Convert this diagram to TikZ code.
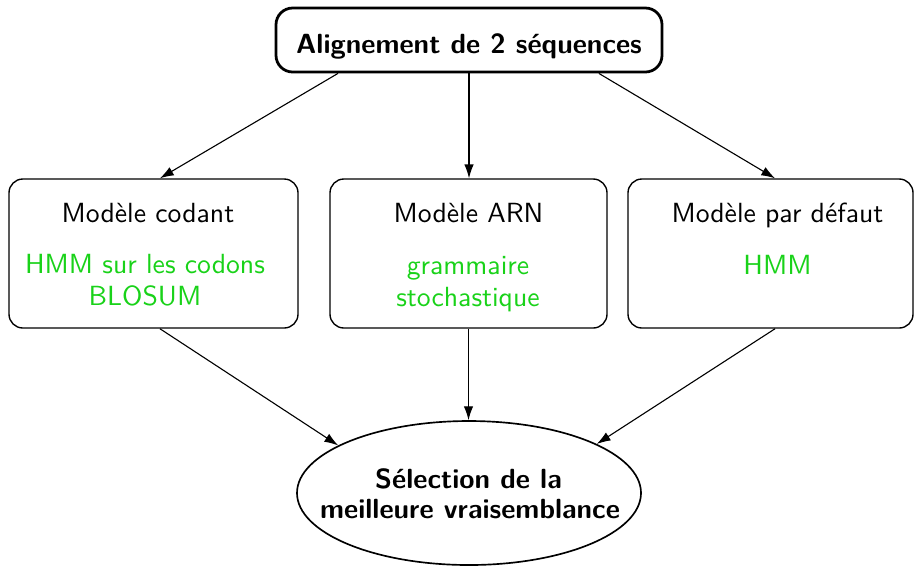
\documentclass[tikz,border=0pt]{standalone}
\usetikzlibrary{shapes.geometric,arrows.meta,calc}
\definecolor{leafgreen}{RGB}{25,210,25}
\begin{document}
\begin{tikzpicture}[x=0.361pt,y=-0.361pt,font=\sffamily,
  headbox/.style={draw,line width=1pt,rounded corners=6pt,inner sep=0pt,
    minimum width=386*0.361pt,minimum height=64*0.361pt},
  headtext/.style={anchor=base,inner sep=0pt,font=\sffamily\bfseries},
  modelbox/.style={draw,line width=0.5pt,rounded corners=5pt,inner sep=0pt,
    minimum height=149*0.361pt},
  modeltitle/.style={anchor=base,inner sep=0pt},
  modelalt/.style={anchor=base,inner sep=0pt,text=leafgreen},
  choice/.style={ellipse,draw,line width=0.6pt,inner sep=0pt,
    minimum width=344*0.361pt,minimum height=144*0.361pt},
  choicetext/.style={anchor=base,inner sep=0pt,font=\sffamily\bfseries},
  link/.style={-{Latex[length=5pt,width=3.4pt]},line width=0.4pt}]
\useasboundingbox (0,0) rectangle (914,566);

% input
\node[headbox] (top) at (469,40) {};
\node[headtext] (toplabel) at (469,53) {Alignement de 2 séquences};

% the three models
\node[modelbox,minimum width=289*0.361pt] (cod) at (153.5,253.5) {};
\node[modeltitle] (codtitle) at (148,222) {Modèle codant};
\node[modelalt] (codalt1) at (145,273) {HMM sur les codons};
\node[modelalt] (codalt2) at (145,305) {BLOSUM};

\node[modelbox,minimum width=277*0.361pt] (arn) at (468.5,253.5) {};
\node[modeltitle] (arntitle) at (468.5,222) {Modèle ARN};
\node[modelalt] (arnalt1) at (468,274) {grammaire};
\node[modelalt] (arnalt2) at (468,306) {stochastique};

\node[modelbox,minimum width=285*0.361pt] (def) at (770.5,253.5) {};
\node[modeltitle] (deftitle) at (777.5,222) {Modèle par défaut};
\node[modelalt] (defalt) at (777.5,274) {HMM};

% selection
\node[choice] (sel) at (469,493) {};
\node[choicetext] (sel1) at (468.5,488) {Sélection de la};
\node[choicetext] (sel2) at (470,518) {meilleure vraisemblance};

% connectors
\draw[link] ($(top.south west)!0.163!(top.south east)$) -- ($(cod.north west)!0.522!(cod.north east)$);
\draw[link] (top.south) -- (top.south |- arn.north);
\draw[link] ($(top.south west)!0.834!(top.south east)$) -- ($(def.north west)!0.516!(def.north east)$);

\draw[link] ($(cod.south west)!0.522!(cod.south east)$) -- (sel.160);
\draw[link] (arn.south) -- (arn.south |- sel.north);
\draw[link] ($(def.south west)!0.516!(def.south east)$) -- (sel.21);
\end{tikzpicture}
\end{document}
